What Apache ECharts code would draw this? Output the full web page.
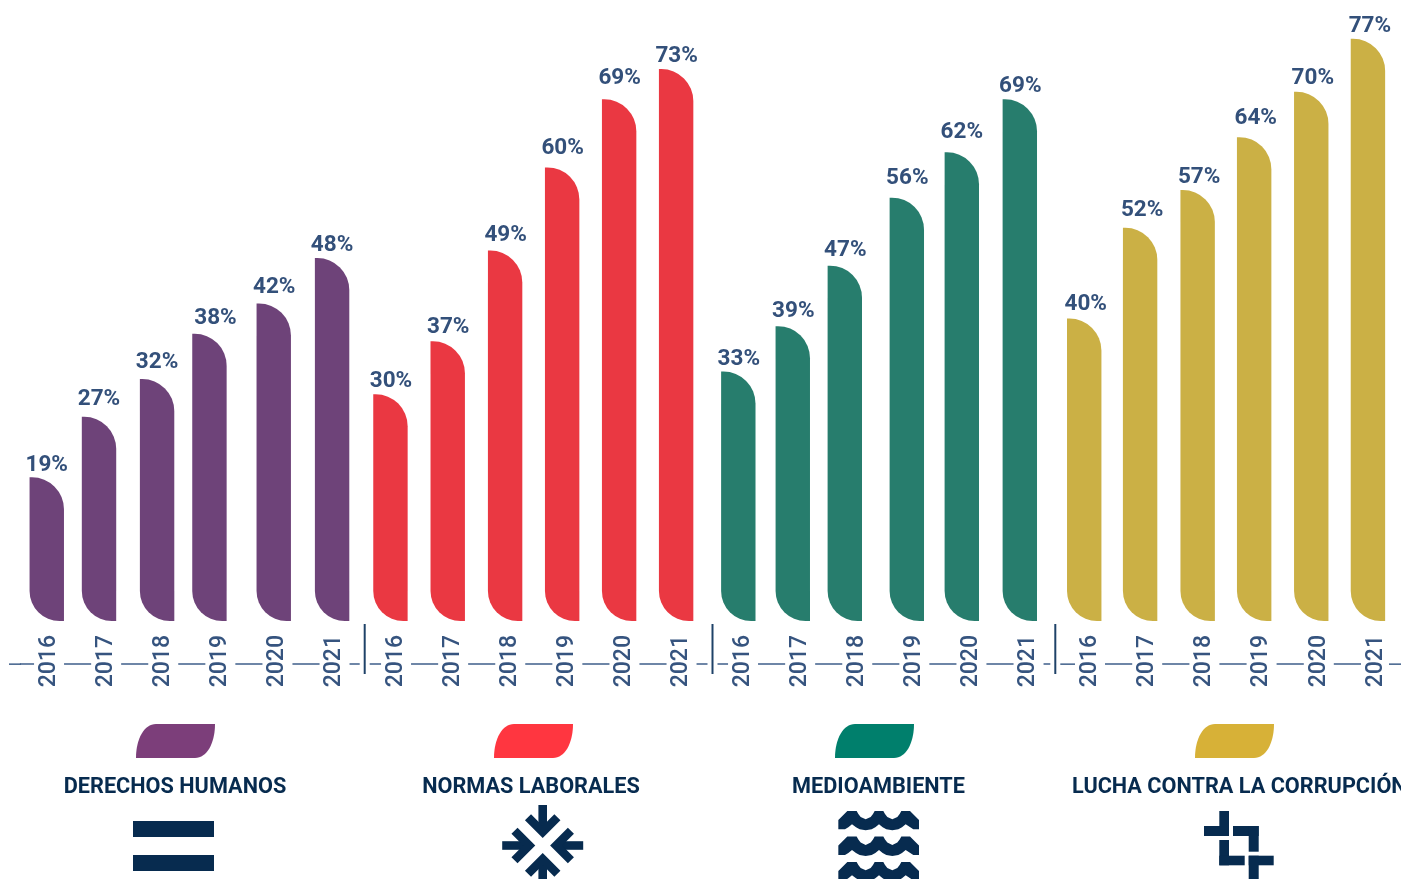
<!DOCTYPE html>
<html>
<head>
<meta charset="utf-8">
<style>html,body{margin:0;padding:0;background:#fff;overflow:hidden}#c{width:1401px;height:879px}</style>
<script src="https://cdn.jsdelivr.net/npm/echarts@6/dist/echarts.min.js"></script>
</head>
<body>
<div id="c"></div>
<script>
const years = ['2016','2017','2018','2019','2020','2021'];
const themes = ['DERECHOS HUMANOS','NORMAS LABORALES','MEDIOAMBIENTE','LUCHA CONTRA LA CORRUPCIÓN'];
const derechosHumanos = [19,27,32,38,42,48];
const normasLaborales = [30,37,49,60,69,73];
const medioambiente = [33,39,47,56,62,69];
const corrupcion = [40,52,57,64,70,77];
const values = [derechosHumanos,normasLaborales,medioambiente,corrupcion];
// bars sit slightly off their year label: position along each panel, in year slots
const slots = [
  [0.46,1.375,2.392,3.309,4.435,5.457],
  [0.402,1.405,2.41,3.409,4.407,5.405],
  [0.417,1.371,2.282,3.368,4.331,5.347],
  [0.399,1.376,2.382,3.37,4.368,5.359]
];
// hand-placed value labels: extra lift above the bar and sideways shift, in px
const labelLift = [[0,6,5,4,5,1],[1,2,4,8,9,1],[1,3,4,8,8,1],[3,6,1,7,2,1]];
const labelShift = [[0,0,0,6,0.5,0],[0.5,0.5,0.5,0.5,0.5,0.5],[0.5,0.5,0.5,0.5,0,0.5],[1.5,2,1.5,1.6,1.6,2]];
const barColors = ['#6E4379','#EA3842','#277D6D','#CBB045'];
const keyColors = ['#7C3E7A','#FF3640','#007F6C','#D7B137'];
// the last panel would overflow the page, so its axis runs from first to last year only
const gridLefts = [20.5,367.5,714.5,1090];
const gridWidths = [342.6,342.6,342.6,286];
const yMax = 82.14;
const keyLefts = [136,494,835,1195];
const NAVY = '#072B4F', INK = '#33507A', AXIS = '#3F5F8A';
const font = 'Roboto';

const grid=[],xAxis=[],yAxis=[],series=[],legend=[];
themes.forEach((name,i)=>{
  const last=i===3;
  grid.push({left:gridLefts[i],width:gridWidths[i],top:0,height:621});
  xAxis.push({type:'category',gridIndex:i,data:years,position:'bottom',offset:43,boundaryGap:!last,
    axisLine:{show:true,onZero:false,lineStyle:{color:AXIS,width:1.5}},axisTick:{show:false},
    axisLabel:{interval:0,rotate:90,margin:-29,fontFamily:font,fontWeight:500,fontSize:23,color:'#36547F',
      backgroundColor:'#fff',padding:[4,0,4,0],lineHeight:22}});
  xAxis.push({type:'value',gridIndex:i,min:last?0.5:0,max:last?5.5:6,show:false});
  yAxis.push({type:'value',gridIndex:i,min:0,max:yMax,show:false});
  series.push({type:'bar',name,xAxisIndex:2*i+1,yAxisIndex:i,barWidth:34.4,clip:false,
    data:values[i].map((v,j)=>({value:[slots[i][j],v],
      label:{distance:labelLift[i][j],offset:[labelShift[i][j],0]}})),
    itemStyle:{color:barColors[i],borderRadius:[0,32,0,30]},
    label:{show:true,position:'top',fontFamily:font,fontWeight:700,fontSize:22.5,color:INK,
      formatter:p=>p.value[1]+'%'}});
  legend.push({show:true,left:keyLefts[i],top:724,padding:0,orient:'horizontal',selectedMode:false,
    itemWidth:79,itemHeight:34,formatter:()=>'',
    data:[{name,icon:'path://M0 34C0 15 8 0 20 0L79 0C79 19 71 34 59 34Z',itemStyle:{color:keyColors[i]}}]});
});

const txt=(x,y,text,align)=>({type:'text',x,y,z:10,style:{text,x:0,y:0,fill:NAVY,align:align||'center',verticalAlign:'middle',
  font:'700 21.7px '+font}});
const rect=(x,y,width,height,fill)=>({type:'rect',z:10,shape:{x,y,width,height},style:{fill:fill||NAVY}});
const poly=(points,w)=>({type:'polyline',z:10,shape:{points},style:{fill:'none',stroke:NAVY,lineWidth:w}});
const arrow=(cx,cy,rot)=>({type:'group',x:cx,y:cy,rotation:rot,z:10,children:[
  poly([[0,-40.5],[0,-15]],8.6),poly([[-14.7,-28.2],[0,-13.5],[14.7,-28.2]],8.6)]});
const waveTop=[[25,45],[52,18],[80,18],[85,27],[92,36],[107,43],[122,36],[129,27],[134,18],[160,18],[165,27],[172,36],[187,43],[202,36],[209,27],[214,18],[240,18],[267,45]];
const waveBottom=[[267,73],[250,73],[227,58],[216,67],[205,73],[187,76],[169,73],[158,67],[147,58],[136,67],[125,73],[107,76],[89,73],[78,67],[66,58],[55,67],[45,73],[25,73]];
const wave=dy=>({type:'polygon',z:10,shape:{points:waveTop.concat(waveBottom).map(([x,y])=>[830+x/3,805+dy+y/3])},style:{fill:NAVY}});

const graphic=[
  rect(9,663.4,12,1.5,AXIS),rect(1060,663.4,15,1.5,AXIS),rect(1389,663.4,12,1.5,AXIS),
  ...[364.7,712.5,1055.3].flatMap(x=>[rect(x-5,660,10,8,'#fff'),rect(x-1,624,2,50,'#1F4268')]),
  txt(175,788,themes[0]),txt(531,788,themes[1]),txt(878.5,788,themes[2]),txt(1072,788,themes[3],'left'),
  rect(133,821,81,16),rect(133,855,81,16),
  arrow(542.7,845.5,0),arrow(542.7,845.5,Math.PI/2),arrow(542.7,845.5,Math.PI),arrow(542.7,845.5,-Math.PI/2),
  wave(0),wave(25.6),wave(51),
  rect(1204,826,25,10),rect(1219.3,811,9.7,25),
  rect(1233,826,25.7,10),rect(1248.7,826,10,25.7),
  rect(1219.3,840,9.7,25.3),rect(1219.3,855.7,25.4,9.6),
  rect(1248.7,855.7,25,9.6),rect(1248.7,855.7,10,24)
];

const chart=echarts.init(document.getElementById('c'));
chart.setOption({animation:false,backgroundColor:'#fff',textStyle:{fontFamily:font},grid,xAxis,yAxis,series,legend,graphic});
</script>
</body>
</html>
